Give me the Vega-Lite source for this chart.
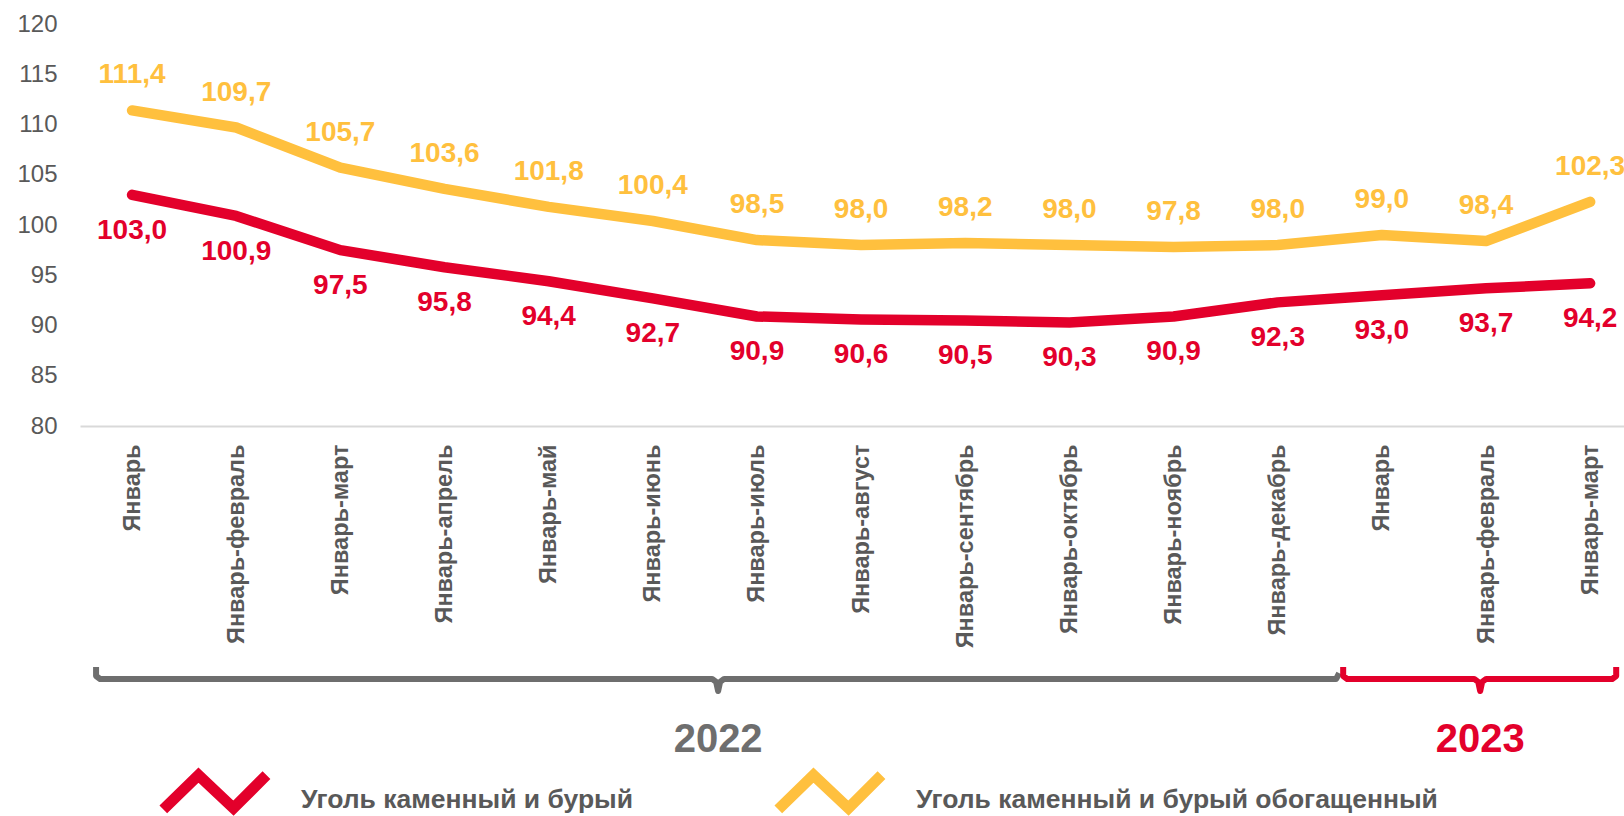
{
  "$schema": "https://vega.github.io/schema/vega-lite/v6.json",
  "width": 1544,
  "height": 402,
  "autosize": {"type": "none"},
  "padding": {"left": 80, "top": 24, "right": 0, "bottom": 390},
  "background": "white",
  "config": {
    "view": {"stroke": null},
    "font": "Liberation Sans",
    "locale": {"number": {"decimal": ",", "thousands": " ", "grouping": [3], "currency": ["", " ₽"]}}
  },
  "datasets": {
    "main": [
      {"i": 0, "period": "Январь", "year": 2022, "series": "Уголь каменный и бурый", "value": 103.0},
      {"i": 1, "period": "Январь-февраль", "year": 2022, "series": "Уголь каменный и бурый", "value": 100.9},
      {"i": 2, "period": "Январь-март", "year": 2022, "series": "Уголь каменный и бурый", "value": 97.5},
      {"i": 3, "period": "Январь-апрель", "year": 2022, "series": "Уголь каменный и бурый", "value": 95.8},
      {"i": 4, "period": "Январь-май", "year": 2022, "series": "Уголь каменный и бурый", "value": 94.4},
      {"i": 5, "period": "Январь-июнь", "year": 2022, "series": "Уголь каменный и бурый", "value": 92.7},
      {"i": 6, "period": "Январь-июль", "year": 2022, "series": "Уголь каменный и бурый", "value": 90.9},
      {"i": 7, "period": "Январь-август", "year": 2022, "series": "Уголь каменный и бурый", "value": 90.6},
      {"i": 8, "period": "Январь-сентябрь", "year": 2022, "series": "Уголь каменный и бурый", "value": 90.5},
      {"i": 9, "period": "Январь-октябрь", "year": 2022, "series": "Уголь каменный и бурый", "value": 90.3},
      {"i": 10, "period": "Январь-ноябрь", "year": 2022, "series": "Уголь каменный и бурый", "value": 90.9},
      {"i": 11, "period": "Январь-декабрь", "year": 2022, "series": "Уголь каменный и бурый", "value": 92.3},
      {"i": 12, "period": "Январь", "year": 2023, "series": "Уголь каменный и бурый", "value": 93.0},
      {"i": 13, "period": "Январь-февраль", "year": 2023, "series": "Уголь каменный и бурый", "value": 93.7},
      {"i": 14, "period": "Январь-март", "year": 2023, "series": "Уголь каменный и бурый", "value": 94.2},
      {"i": 0, "period": "Январь", "year": 2022, "series": "Уголь каменный и бурый обогащенный", "value": 111.4},
      {"i": 1, "period": "Январь-февраль", "year": 2022, "series": "Уголь каменный и бурый обогащенный", "value": 109.7},
      {"i": 2, "period": "Январь-март", "year": 2022, "series": "Уголь каменный и бурый обогащенный", "value": 105.7},
      {"i": 3, "period": "Январь-апрель", "year": 2022, "series": "Уголь каменный и бурый обогащенный", "value": 103.6},
      {"i": 4, "period": "Январь-май", "year": 2022, "series": "Уголь каменный и бурый обогащенный", "value": 101.8},
      {"i": 5, "period": "Январь-июнь", "year": 2022, "series": "Уголь каменный и бурый обогащенный", "value": 100.4},
      {"i": 6, "period": "Январь-июль", "year": 2022, "series": "Уголь каменный и бурый обогащенный", "value": 98.5},
      {"i": 7, "period": "Январь-август", "year": 2022, "series": "Уголь каменный и бурый обогащенный", "value": 98.0},
      {"i": 8, "period": "Январь-сентябрь", "year": 2022, "series": "Уголь каменный и бурый обогащенный", "value": 98.2},
      {"i": 9, "period": "Январь-октябрь", "year": 2022, "series": "Уголь каменный и бурый обогащенный", "value": 98.0},
      {"i": 10, "period": "Январь-ноябрь", "year": 2022, "series": "Уголь каменный и бурый обогащенный", "value": 97.8},
      {"i": 11, "period": "Январь-декабрь", "year": 2022, "series": "Уголь каменный и бурый обогащенный", "value": 98.0},
      {"i": 12, "period": "Январь", "year": 2023, "series": "Уголь каменный и бурый обогащенный", "value": 99.0},
      {"i": 13, "period": "Январь-февраль", "year": 2023, "series": "Уголь каменный и бурый обогащенный", "value": 98.4},
      {"i": 14, "period": "Январь-март", "year": 2023, "series": "Уголь каменный и бурый обогащенный", "value": 102.3}
    ],
    "braces": [
      {"brace": "2022", "k": 1, "i": -0.3457, "value": 56.02},
      {"brace": "2022", "k": 2, "i": -0.3457, "value": 55.12},
      {"brace": "2022", "k": 3, "i": -0.3073, "value": 54.83},
      {"brace": "2022", "k": 4, "i": 5.5694, "value": 54.83},
      {"brace": "2022", "k": 5, "i": 5.6078, "value": 54.53},
      {"brace": "2022", "k": 6, "i": 5.627, "value": 53.63},
      {"brace": "2022", "k": 7, "i": 5.6462, "value": 54.53},
      {"brace": "2022", "k": 8, "i": 5.6846, "value": 54.83},
      {"brace": "2022", "k": 9, "i": 11.5614, "value": 54.83},
      {"brace": "2022", "k": 10, "i": 11.5902, "value": 55.42},
      {"brace": "2023", "k": 1, "i": 11.6286, "value": 56.02},
      {"brace": "2023", "k": 2, "i": 11.6286, "value": 55.12},
      {"brace": "2023", "k": 3, "i": 11.667, "value": 54.83},
      {"brace": "2023", "k": 4, "i": 12.8865, "value": 54.83},
      {"brace": "2023", "k": 5, "i": 12.9249, "value": 54.53},
      {"brace": "2023", "k": 6, "i": 12.9441, "value": 53.63},
      {"brace": "2023", "k": 7, "i": 12.9633, "value": 54.53},
      {"brace": "2023", "k": 8, "i": 13.0017, "value": 54.83},
      {"brace": "2023", "k": 9, "i": 14.2116, "value": 54.83},
      {"brace": "2023", "k": 10, "i": 14.25, "value": 55.12},
      {"brace": "2023", "k": 11, "i": 14.25, "value": 56.02}
    ],
    "years": [
      {"year": "2022", "i": 5.627, "value": 48.76},
      {"year": "2023", "i": 12.9441, "value": 48.76}
    ]
  },
  "encoding": {
    "x": {
      "field": "i",
      "type": "quantitative",
      "scale": {"domain": [-0.5, 14.325], "nice": false, "zero": false},
      "axis": {
        "title": null,
        "values": [0, 1, 2, 3, 4, 5, 6, 7, 8, 9, 10, 11, 12, 13, 14],
        "labelExpr": "['Январь','Январь-февраль','Январь-март','Январь-апрель','Январь-май','Январь-июнь','Январь-июль','Январь-август','Январь-сентябрь','Январь-октябрь','Январь-ноябрь','Январь-декабрь','Январь','Январь-февраль','Январь-март'][datum.value]",
        "labelAngle": 270,
        "labelFontSize": 23.5,
        "labelFontWeight": "bold",
        "labelColor": "#595959",
        "labelPadding": 18,
        "labelOverlap": false,
        "labelFlush": false,
        "labelBound": false,
        "labelLimit": 0,
        "ticks": false,
        "grid": false,
        "domain": true,
        "domainColor": "#d9d9d9",
        "domainWidth": 2
      }
    },
    "y": {
      "field": "value",
      "type": "quantitative",
      "scale": {"domain": [80, 120], "nice": false, "zero": false},
      "axis": {
        "title": null,
        "values": [80, 85, 90, 95, 100, 105, 110, 115, 120],
        "labelFontSize": 24,
        "labelColor": "#595959",
        "labelPadding": 23,
        "ticks": false,
        "grid": false,
        "domain": false
      }
    }
  },
  "layer": [
    {
      "data": {"name": "main"},
      "mark": {"type": "line", "strokeWidth": 10.5, "strokeCap": "round", "strokeJoin": "round"},
      "encoding": {
        "color": {
          "field": "series",
          "type": "nominal",
          "scale": {
            "domain": ["Уголь каменный и бурый", "Уголь каменный и бурый обогащенный"],
            "range": ["#E3002B", "#FFC03E"]
          },
          "legend": {
            "title": null,
            "orient": "none",
            "legendX": 72,
            "legendY": 712,
            "direction": "horizontal",
            "gridAlign": "none",
            "padding": 0,
            "symbolType": "M-0.9,0.17L-0.293,-0.42L0.31,0.15L0.879,-0.42",
            "symbolSize": 13456,
            "symbolStrokeWidth": 11,
            "symbolFillColor": "transparent",
            "labelFont": "Liberation Sans",
            "labelFontSize": 26.5,
            "labelFontWeight": "bold",
            "labelColor": "#595959",
            "labelOffset": 22,
            "labelLimit": 0,
            "columnPadding": 123
          }
        }
      }
    },
    {
      "data": {"name": "main"},
      "transform": [{"filter": "datum.series === 'Уголь каменный и бурый обогащенный'"}],
      "mark": {"type": "text", "dy": -35, "baseline": "middle", "align": "center", "fontSize": 28, "fontWeight": "bold", "color": "#FFC03E"},
      "encoding": {"text": {"field": "value", "type": "quantitative", "format": ".1f"}}
    },
    {
      "data": {"name": "main"},
      "transform": [{"filter": "datum.series === 'Уголь каменный и бурый'"}],
      "mark": {"type": "text", "dy": 36, "baseline": "middle", "align": "center", "fontSize": 28, "fontWeight": "bold", "color": "#E3002B"},
      "encoding": {"text": {"field": "value", "type": "quantitative", "format": ".1f"}}
    },
    {
      "data": {"name": "braces"},
      "transform": [{"filter": "datum.brace === '2022'"}],
      "mark": {"type": "line", "strokeWidth": 6, "strokeJoin": "round", "strokeCap": "butt", "color": "#6E6E6E"},
      "encoding": {"order": {"field": "k", "type": "quantitative"}}
    },
    {
      "data": {"name": "braces"},
      "transform": [{"filter": "datum.brace === '2023'"}],
      "mark": {"type": "line", "strokeWidth": 6, "strokeJoin": "round", "strokeCap": "butt", "color": "#E3002B"},
      "encoding": {"order": {"field": "k", "type": "quantitative"}}
    },
    {
      "data": {"name": "years"},
      "transform": [{"filter": "datum.year === '2022'"}],
      "mark": {"type": "text", "baseline": "middle", "align": "center", "fontSize": 40, "fontWeight": "bold", "color": "#6E6E6E"},
      "encoding": {"text": {"field": "year", "type": "nominal"}}
    },
    {
      "data": {"name": "years"},
      "transform": [{"filter": "datum.year === '2023'"}],
      "mark": {"type": "text", "baseline": "middle", "align": "center", "fontSize": 40, "fontWeight": "bold", "color": "#E3002B"},
      "encoding": {"text": {"field": "year", "type": "nominal"}}
    }
  ]
}
